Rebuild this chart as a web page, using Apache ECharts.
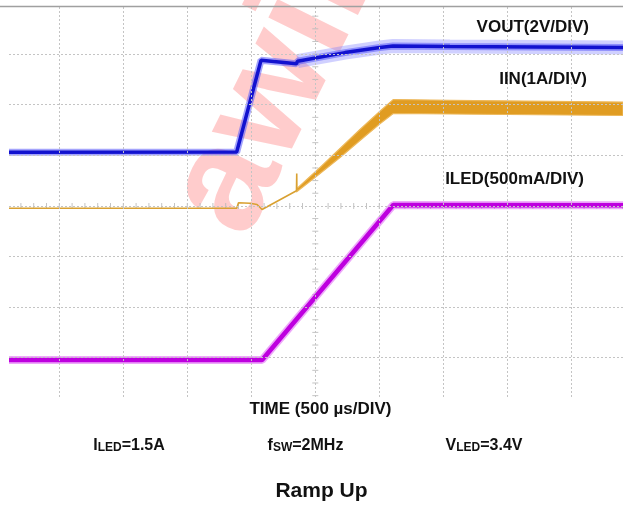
<!DOCTYPE html>
<html><head><meta charset="utf-8">
<script src="https://cdn.jsdelivr.net/npm/echarts@6/dist/echarts.min.js"></script>
<style>html,body{margin:0;padding:0;background:#fff;}#c{width:623px;height:512px;}</style>
</head><body><div id="c"></div>
<script>
// time in µs relative to screen centre (500 µs/DIV); vertical in screen divisions
const VOUT_T   = [-2393, -614, -424, -147, -139, 232, 505, 607, 1052, 2404];
const VOUT_DIV = [1.06, 1.065, 2.88, 2.81, 2.86, 3.03, 3.13, 3.16, 3.15, 3.13];

const IIN_THIN_T   = [-2393, -614, -600, -510, -455, -416, -147, -146, -145, -144, -143];
const IIN_THIN_DIV = [-0.047, -0.047, 0.063, 0.053, 0.028, -0.071, 0.30, 0.33, 0.64, 0.34, 0.314];
const IIN_BAND_T   = [-143, 37, 193, 349, 505, 609, 1052, 2404];
const IIN_BAND_UP  = [0.344, 0.759, 1.134, 1.510, 1.871, 2.103, 2.087, 2.053];
const IIN_BAND_LO  = [0.285, 0.640, 0.957, 1.292, 1.624, 1.826, 1.816, 1.787];

const ILED_T   = [-2393, -416, 609, 2404];
const ILED_DIV = [-3.045, -3.045, 0.018, 0.012];

const GRID_T = [-2000, -1500, -1000, -500, 0, 500, 1000, 1500, 2000];
const GRID_D = [-3, -2, -1, 0, 1, 2, 3];
const MINOR_T = [-2300,-2200,-2100,-2000,-1900,-1800,-1700,-1600,-1500,-1400,-1300,-1200,-1100,-1000,-900,-800,-700,-600,-500,-400,-300,-200,-100,100,200,300,400,500,600,700,800,900,1000,1100,1200,1300,1400,1500,1600,1700,1800,1900,2000,2100,2200,2300,2400];
const MINOR_D = [-3.75,-3.5,-3.25,-3,-2.75,-2.5,-2.25,-2,-1.75,-1.5,-1.25,-1,-0.75,-0.5,-0.25,0.25,0.5,0.75,1,1.25,1.5,1.75,2,2.25,2.5,2.75,3,3.25,3.5,3.75];

const LABELS = ['VOUT(2V/DIV)', 'IIN(1A/DIV)', 'ILED(500mA/DIV)'];
const AXIS_TITLE = 'TIME (500 µs/DIV)';
const CHART_TITLE = 'Ramp Up';

const zip = (a, b) => a.map((v, i) => [v, b[i]]);
const F = '"Liberation Sans", Arial, sans-serif';

const chart = echarts.init(document.getElementById('c'));
chart.setOption({
  animation: false,
  grid: { left: 9, right: 0, top: 6, bottom: 115 },
  xAxis: { type: 'value', min: -2393, max: 2404, show: false },
  yAxis: { type: 'value', min: -3.777, max: 3.951, show: false },
  graphic: [
    { type: 'text', x: 209, y: 223, rotation: 63.7 * Math.PI / 180, z: 0,
      style: { text: 'awinic', font: 'bold 150px ' + F, fill: 'rgba(255,0,0,0.2)', textAlign: 'left', textVerticalAlign: 'middle' } },
    { type: 'line', z: 10, shape: { x1: 0, y1: 6.5, x2: 623, y2: 6.5 }, style: { stroke: '#A0A0A0', lineWidth: 1.5 } },
    { type: 'text', x: 589, y: 36, z: 10, style: { text: LABELS[0], font: 'bold 17px ' + F, fill: '#111', textAlign: 'right', textVerticalAlign: 'bottom' } },
    { type: 'text', x: 587, y: 88, z: 10, style: { text: LABELS[1], font: 'bold 17px ' + F, fill: '#111', textAlign: 'right', textVerticalAlign: 'bottom' } },
    { type: 'text', x: 584, y: 188, z: 10, style: { text: LABELS[2], font: 'bold 17px ' + F, fill: '#111', textAlign: 'right', textVerticalAlign: 'bottom' } },
    { type: 'text', x: 320.5, y: 418, z: 10, style: { text: AXIS_TITLE, font: 'bold 17px ' + F, fill: '#111', textAlign: 'center', textVerticalAlign: 'bottom' } },
    { type: 'text', x: 129, y: 454, z: 10, style: { text: '{a|I}{b|LED}{a|=1.5A}', textAlign: 'center', textVerticalAlign: 'bottom',
      rich: { a: { font: 'bold 16px ' + F, fill: '#111', verticalAlign: 'bottom' }, b: { font: 'bold 12px ' + F, fill: '#111', verticalAlign: 'bottom' } } } },
    { type: 'text', x: 305.5, y: 454, z: 10, style: { text: '{a|f}{b|SW}{a|=2MHz}', textAlign: 'center', textVerticalAlign: 'bottom',
      rich: { a: { font: 'bold 16px ' + F, fill: '#111', verticalAlign: 'bottom' }, b: { font: 'bold 12px ' + F, fill: '#111', verticalAlign: 'bottom' } } } },
    { type: 'text', x: 484, y: 454, z: 10, style: { text: '{a|V}{b|LED}{a|=3.4V}', textAlign: 'center', textVerticalAlign: 'bottom',
      rich: { a: { font: 'bold 16px ' + F, fill: '#111', verticalAlign: 'bottom' }, b: { font: 'bold 12px ' + F, fill: '#111', verticalAlign: 'bottom' } } } },
    { type: 'text', x: 321.5, y: 502, z: 10, style: { text: CHART_TITLE, font: 'bold 21px ' + F, fill: '#111', textAlign: 'center', textVerticalAlign: 'bottom' } }
  ],
  series: [
    { type: 'scatter', z: 1, silent: true, symbol: 'rect', symbolSize: [1, 6],
      itemStyle: { color: '#B5B5B5' }, data: MINOR_T.map(t => [t, 0]),
      markLine: { silent: true, symbol: 'none', label: { show: false },
        lineStyle: { color: '#C4C4C4', type: [2, 2], width: 1 },
        data: GRID_T.map(t => ({ xAxis: t })).concat(GRID_D.map(d => ({ yAxis: d }))) } },
    { type: 'scatter', z: 1, silent: true, symbol: 'rect', symbolSize: [6, 1],
      itemStyle: { color: '#B5B5B5' }, data: MINOR_D.map(d => [0, d]) },
    // VOUT
    { type: 'line', z: 3, silent: true, showSymbol: false, data: zip(VOUT_T, VOUT_DIV).slice(4),
      lineStyle: { color: 'rgba(120,120,255,0.35)', width: 14 } },
    { type: 'line', z: 3, silent: true, showSymbol: false, data: zip(VOUT_T, VOUT_DIV),
      lineStyle: { color: 'rgba(90,90,250,0.55)', width: 7 } },
    { type: 'line', z: 4, silent: true, showSymbol: false, data: zip(VOUT_T, VOUT_DIV),
      lineStyle: { color: '#1212CF', width: 3.5 } },
    // IIN
    { type: 'line', z: 3, silent: true, showSymbol: false, data: zip(IIN_THIN_T, IIN_THIN_DIV),
      lineStyle: { color: '#D9A132', width: 1.6 } },
    { type: 'custom', z: 3, silent: true, coordinateSystem: 'cartesian2d', data: [[0, 0]],
      renderItem: (params, api) => {
        const pts = [];
        for (let i = 0; i < IIN_BAND_T.length; i++) pts.push(api.coord([IIN_BAND_T[i], IIN_BAND_UP[i]]));
        for (let i = IIN_BAND_T.length - 1; i >= 0; i--) pts.push(api.coord([IIN_BAND_T[i], IIN_BAND_LO[i]]));
        return { type: 'polygon', shape: { points: pts }, style: { fill: '#E09C22', stroke: '#EDB85A', lineWidth: 1.2 } };
      } },
    // ILED
    { type: 'line', z: 3, silent: true, showSymbol: false, data: zip(ILED_T, ILED_DIV),
      lineStyle: { color: 'rgba(225,110,245,0.6)', width: 8 } },
    { type: 'line', z: 4, silent: true, showSymbol: false, data: zip(ILED_T, ILED_DIV),
      lineStyle: { color: '#BE00DF', width: 4.5 } }
  ]
});
</script>
</body></html>
